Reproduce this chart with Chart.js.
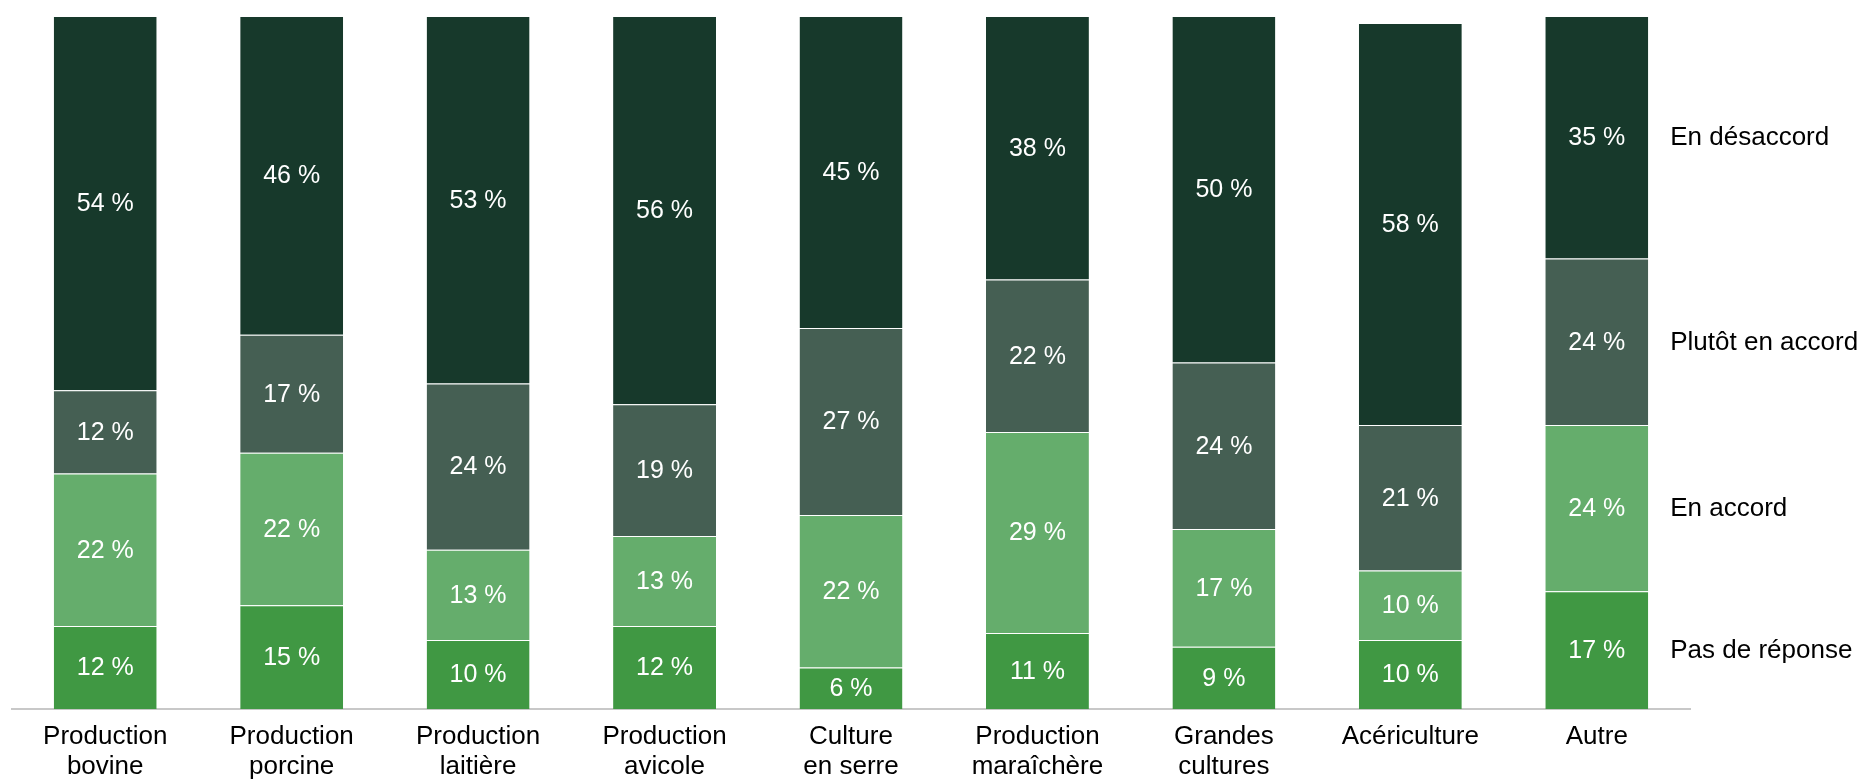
<!DOCTYPE html>
<html>
<head>
<meta charset="utf-8">
<script src="https://cdn.jsdelivr.net/npm/chart.js@4"></script>
<style>
  html, body { margin: 0; padding: 0; background: #fff; }
  #wrap { width: 1866px; height: 781px; }
</style>
</head>
<body>
<div id="wrap"><canvas id="chart"></canvas></div>
<script>
// Categories (two-line tick labels)
const categories = [
  ['Production', 'bovine'],
  ['Production', 'porcine'],
  ['Production', 'laitière'],
  ['Production', 'avicole'],
  ['Culture', 'en serre'],
  ['Production', 'maraîchère'],
  ['Grandes', 'cultures'],
  'Acériculture',
  'Autre'
];

// Series values (%), bottom to top
const pasDeReponse   = [12, 15, 10, 12,  6, 11,  9, 10, 17];
const enAccord       = [22, 22, 13, 13, 22, 29, 17, 10, 24];
const plutotEnAccord = [12, 17, 24, 19, 27, 22, 24, 21, 24];
const enDesaccord    = [54, 46, 53, 56, 45, 38, 50, 58, 35];

const seriesNames  = ['Pas de réponse', 'En accord', 'Plutôt en accord', 'En désaccord'];
const seriesColors = ['#409843', '#65ad6c', '#455f53', '#17392b'];

const FONT = 'Liberation Sans, Arial, sans-serif';

// Draws the percentage inside each segment
const segmentLabels = {
  id: 'segmentLabels',
  afterDatasetsDraw(chart) {
    const ctx = chart.ctx;
    ctx.save();
    ctx.font = '25px ' + FONT;
    ctx.fillStyle = '#ffffff';
    ctx.textAlign = 'center';
    ctx.textBaseline = 'middle';
    chart.data.datasets.forEach((ds, i) => {
      chart.getDatasetMeta(i).data.forEach((bar, j) => {
        const mid = (bar.y + bar.base) / 2;
        ctx.fillText(ds.data[j] + ' %', bar.x, mid + 1);
      });
    });
    ctx.restore();
  }
};

// Series names beside the last bar, at the middle of each segment
const sideLegend = {
  id: 'sideLegend',
  afterDatasetsDraw(chart) {
    const ctx = chart.ctx;
    const last = chart.data.labels.length - 1;
    ctx.save();
    ctx.font = '26px ' + FONT;
    ctx.fillStyle = '#000000';
    ctx.textAlign = 'left';
    ctx.textBaseline = 'middle';
    chart.data.datasets.forEach((ds, i) => {
      const bar = chart.getDatasetMeta(i).data[last];
      const mid = (bar.y + bar.base) / 2;
      ctx.fillText(ds.label, bar.x + bar.width / 2 + 22, mid + 1);
    });
    ctx.restore();
  }
};

const allValues = [pasDeReponse, enAccord, plutotEnAccord, enDesaccord];

new Chart(document.getElementById('chart'), {
  type: 'bar',
  data: {
    labels: categories,
    datasets: allValues.map((vals, i) => ({
      label: seriesNames[i],
      data: vals,
      backgroundColor: seriesColors[i],
      borderColor: 'rgba(255,255,255,0.3)',
      borderWidth: { top: 1, left: 0, right: 0, bottom: 0 },
      borderSkipped: false,
      barPercentage: 1,
      categoryPercentage: 0.552
    }))
  },
  options: {
    responsive: true,
    maintainAspectRatio: false,
    animation: false,
    layout: { padding: { left: 12, right: 176, top: 16, bottom: -14 } },
    plugins: {
      legend: { display: false },
      tooltip: { enabled: false }
    },
    scales: {
      x: {
        stacked: true,
        grid: { display: false, drawTicks: false },
        border: { display: true, color: '#c8c8c8', width: 2 },
        ticks: {
          color: '#000000',
          padding: 13,
          maxRotation: 0,
          autoSkip: false,
          font: { family: FONT, size: 26, lineHeight: 1.15 }
        }
      },
      y: {
        stacked: true,
        display: false,
        min: 0,
        max: 100
      }
    }
  },
  plugins: [segmentLabels, sideLegend]
});
</script>
</body>
</html>
